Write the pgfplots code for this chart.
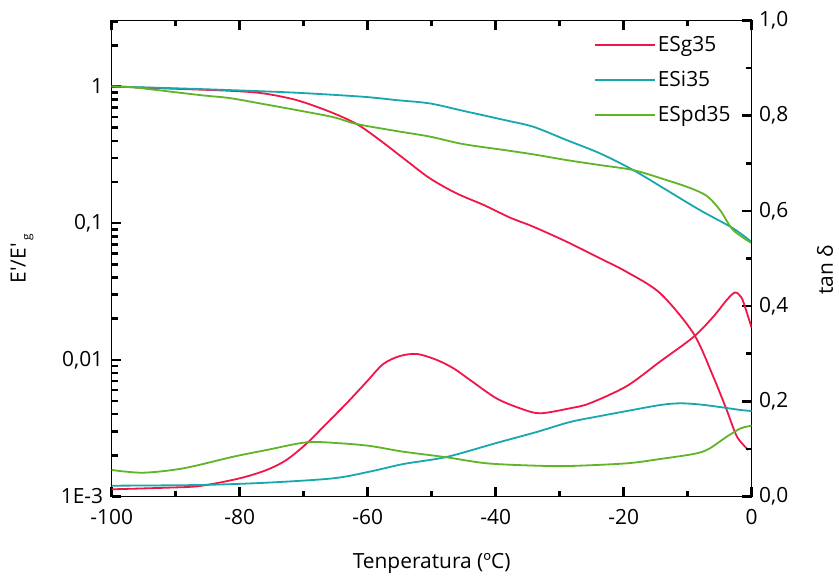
\documentclass[border=0pt]{standalone}
\usepackage{fontspec}
\setmainfont{Open Sans}
\usepackage{pgfplots}
\pgfplotsset{compat=1.18}
\definecolor{cR}{RGB}{240,22,72}
\definecolor{cT}{RGB}{22,168,174}
\definecolor{cG}{RGB}{96,180,40}
\begin{document}
\begin{tikzpicture}[font=\fontsize{21}{25}\selectfont]
\useasboundingbox (-111.7bp,-79.5bp) rectangle (727.3bp,496.5bp);
\pgfplotsset{
  common/.style={scale only axis, width=640bp, height=476bp, xmin=-100, xmax=0,
    at={(0,0)}, anchor=south west,
    tick align=inside, major tick length=9.5bp, minor tick length=6bp,
    xtick style={black, line width=2.5bp},
    ytick style={black, line width=2.5bp},
    axis line style={line width=1.4bp},
    /pgf/number format/assume math mode=true,
  },
  lw/.style={line width=1.8bp, smooth},
}
\begin{axis}[common, ymode=log, ymin=1e-3, ymax=3.04, axis y line*=left,
  ytick align=inside,
  xtick={-100,-80,-60,-40,-20,0}, minor xtick={-90,-70,-50,-30,-10},
  ytick={0.001,0.01,0.1,1}, yticklabels={1E-3,{0,01},{0,1},1},
  minor ytick={0.002,0.003,0.004,0.005,0.006,0.007,0.008,0.009,0.02,0.03,0.04,0.05,0.06,0.07,0.08,0.09,0.2,0.3,0.4,0.5,0.6,0.7,0.8,0.9,2,3},
  xticklabel style={yshift=-9bp},
  yticklabel style={xshift=-5bp},
  xlabel={Tenperatura (ºC)},
  xlabel style={at={(axis description cs:0.5,-0.14)}, anchor=center},
  ylabel={E\textquotesingle/E\textquotesingle\hspace{3bp}\raisebox{-5bp}{\fontsize{12}{14}\selectfont g}},
  ylabel style={at={(axis description cs:-0.14,0.5)}, anchor=center},
  legend style={at={(axis description cs:0.975,0.975)}, anchor=north east, draw=none, fill=none, row sep=14bp},
  legend cell align=left,
  legend image code/.code={\draw[#1] plot coordinates {(0bp,0bp) (60bp,0bp)};},
]
\addplot[cR, lw] coordinates {(-100,1.0) (-90.9,0.965) (-81.5,0.930) (-76.3,0.890) (-71.1,0.795) (-65.9,0.653) (-61.7,0.531) (-58.1,0.405) (-54.4,0.298) (-50.3,0.213) (-46.1,0.165) (-41.9,0.136) (-37.8,0.110) (-34.1,0.0941) (-28.9,0.0731) (-23.7,0.0553) (-19.5,0.0439) (-14.3,0.0307) (-9.1,0.0156) (-6.0,0.00752) (-3.9,0.00429) (-2.3,0.00274) (-0.5,0.00219)};
\addlegendentry{ESg35}
\addplot[cT, lw] coordinates {(-100,1.0) (-90.9,0.973) (-81.5,0.941) (-71.1,0.900) (-60.7,0.841) (-55.5,0.795) (-50.3,0.752) (-45.1,0.664) (-38.6,0.568) (-34.1,0.507) (-28.9,0.405) (-23.7,0.324) (-18.5,0.2445) (-13.3,0.1747) (-8.1,0.1247) (-2.9,0.0916) (0,0.0727)};
\addlegendentry{ESi35}
\addplot[cG, lw] coordinates {(-100,1.0) (-96.6,0.985) (-86.2,0.865) (-81.5,0.822) (-75.8,0.737) (-71.1,0.672) (-65.4,0.597) (-61.7,0.531) (-55.5,0.472) (-50.3,0.430) (-45.1,0.379) (-38.6,0.3425) (-34.1,0.3186) (-28.9,0.2894) (-23.7,0.266) (-18.5,0.2445) (-13.3,0.2067) (-9.6,0.1806) (-7.0,0.158) (-4.95,0.1247) (-2.9,0.089) (0,0.0715)};
\addlegendentry{ESpd35}
\end{axis}
\begin{axis}[common, ymin=0, ymax=1, axis y line*=right, axis x line=none,
  ytick align=inside,
  ytick={0,0.2,0.4,0.6,0.8,1}, minor ytick={0.1,0.3,0.5,0.7,0.9},
  yticklabel style={xshift=4bp, /pgf/number format/.cd, fixed, fixed zerofill, precision=1, use comma},
  ylabel={tan δ},
  ylabel style={at={(axis description cs:1.1145,0.476)}, anchor=center},
]
\addplot[cR, lw] coordinates {(-100,0.0151) (-91.4,0.0185) (-86.2,0.0221) (-80.0,0.0382) (-75.8,0.0557) (-72.7,0.0767) (-69.5,0.1118) (-66.4,0.1538) (-63.3,0.1958) (-60.2,0.2405) (-57.6,0.278) (-55.0,0.295) (-52.3,0.2994) (-49.2,0.2868) (-46.6,0.2693) (-44.0,0.2447) (-39.9,0.2063) (-36.2,0.1853) (-33.1,0.1748) (-28.4,0.1853) (-25.3,0.1958) (-19.5,0.2321) (-14.3,0.2836) (-9.1,0.3351) (-6.0,0.3777) (-3.9,0.4128) (-2.6,0.4286) (-1.6,0.418) (-0.9,0.392) (0,0.354)};
\addplot[cT, lw] coordinates {(-100,0.0227) (-86.2,0.0242) (-75.8,0.029) (-65.4,0.0382) (-59.6,0.0525) (-54.4,0.0683) (-47.7,0.083) (-39.9,0.1124) (-33.6,0.1355) (-28.4,0.1565) (-23.7,0.169) (-19.5,0.1796) (-14.3,0.1922) (-11.2,0.1958) (-8.1,0.1933) (-5.0,0.188) (-1.7,0.1817) (0,0.1796)};
\addplot[cG, lw] coordinates {(-100,0.0557) (-95.1,0.05) (-88.8,0.0592) (-81.0,0.0836) (-75.8,0.0977) (-69.5,0.1139) (-64.3,0.1118) (-59.6,0.1061) (-54.4,0.0941) (-47.7,0.0824) (-41.4,0.0697) (-33.6,0.0647) (-28.4,0.0641) (-19.5,0.0697) (-14.3,0.0788) (-9.1,0.0893) (-6.8,0.0992) (-3.9,0.1256) (-1.7,0.1433) (0,0.1487)};
\end{axis}
\end{tikzpicture}
\end{document}
